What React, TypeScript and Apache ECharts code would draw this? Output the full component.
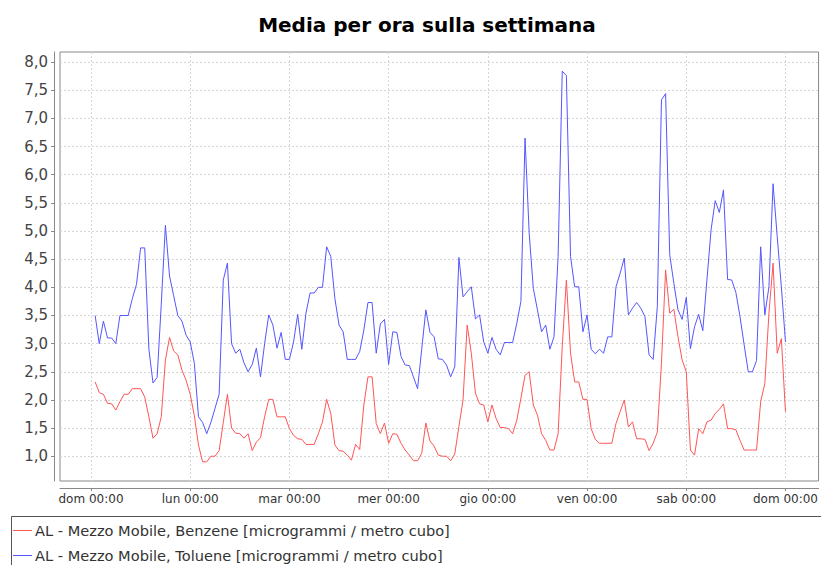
import React, { useEffect, useRef } from 'react';
import * as echarts from 'echarts';

const chartTitle = 'Media per ora sulla settimana';
const dayLabels = ['dom 00:00', 'lun 00:00', 'mar 00:00', 'mer 00:00', 'gio 00:00', 'ven 00:00', 'sab 00:00', 'dom 00:00'];
const dayTickHours = [0, 24, 48, 72, 96, 120, 144, 168];
const yTicks = [1.0, 1.5, 2.0, 2.5, 3.0, 3.5, 4.0, 4.5, 5.0, 5.5, 6.0, 6.5, 7.0, 7.5, 8.0];
const seriesNames = [
  'AL - Mezzo Mobile, Benzene [microgrammi / metro cubo]',
  'AL - Mezzo Mobile, Toluene [microgrammi / metro cubo]',
];

// hourly means, hour 1 .. 168 of the week
const benzene = [
  2.32, 2.13, 2.1, 1.94, 1.93, 1.82, 1.97, 2.1, 2.1, 2.2, 2.2, 2.2,
  2.05, 1.7, 1.32, 1.4, 1.7, 2.71, 3.11, 2.87, 2.8, 2.53, 2.35, 2.1,
  1.72, 1.2, 0.9, 0.9, 1.0, 1.0, 1.1, 1.6, 2.1, 1.5, 1.41, 1.4,
  1.32, 1.4, 1.1, 1.25, 1.33, 1.7, 2.01, 2.01, 1.7, 1.7, 1.7, 1.49,
  1.37, 1.31, 1.3, 1.21, 1.21, 1.21, 1.4, 1.61, 2.01, 1.76, 1.2, 1.1,
  1.09, 1.02, 0.93, 1.21, 1.12, 1.91, 2.41, 2.41, 1.58, 1.4, 1.59, 1.23,
  1.4, 1.39, 1.23, 1.11, 1.02, 0.92, 0.92, 1.05, 1.59, 1.27, 1.18, 1.02,
  1.0, 1.0, 0.92, 1.04, 1.53, 2.0, 3.33, 2.83, 2.12, 1.93, 1.91, 1.61,
  1.91, 1.67, 1.51, 1.51, 1.49, 1.4, 1.64, 2.03, 2.44, 2.5, 1.91, 1.73,
  1.4, 1.28, 1.11, 1.11, 1.4, 2.95, 4.13, 2.83, 2.32, 2.32, 2.01, 2.01,
  1.49, 1.3, 1.23, 1.23, 1.23, 1.23, 1.58, 1.79, 2.0, 1.52, 1.61, 1.31,
  1.31, 1.3, 1.1, 1.23, 1.43, 2.65, 4.31, 3.54, 3.61, 3.12, 2.71, 2.5,
  1.11, 1.02, 1.49, 1.4, 1.61, 1.64, 1.76, 1.83, 1.93, 1.49, 1.49, 1.47,
  1.28, 1.11, 1.11, 1.11, 1.11, 1.97, 2.29, 3.54, 4.43, 2.83, 3.09, 1.79,
];

const toluene = [
  3.5, 3.0, 3.4, 3.1, 3.1, 3.0, 3.5, 3.5, 3.5, 3.8, 4.05, 4.7,
  4.7, 2.9, 2.3, 2.4, 3.7, 5.1, 4.2, 3.85, 3.5, 3.4, 3.15, 3.03,
  2.65, 1.7, 1.6, 1.4, 1.6, 1.85, 2.1, 4.13, 4.43, 3.0, 2.83, 2.9,
  2.66, 2.5, 2.63, 2.92, 2.41, 3.0, 3.51, 3.33, 2.92, 3.2, 2.72, 2.72,
  3.03, 3.52, 2.9, 3.54, 3.9, 3.9, 4.0, 4.0, 4.72, 4.55, 3.8, 3.33,
  3.21, 2.72, 2.72, 2.72, 2.86, 3.24, 3.73, 3.73, 2.83, 3.35, 3.43, 2.63,
  3.21, 3.2, 2.77, 2.62, 2.61, 2.41, 2.2, 2.9, 3.6, 3.2, 3.12, 2.73,
  2.72, 2.62, 2.41, 2.59, 4.53, 3.83, 3.92, 4.01, 3.44, 3.51, 3.03, 2.83,
  3.11, 2.9, 2.8, 3.02, 3.02, 3.02, 3.36, 3.75, 6.65, 4.96, 3.98, 3.6,
  3.21, 3.33, 2.9, 3.12, 4.55, 7.84, 7.76, 4.55, 4.01, 4.01, 3.21, 3.51,
  2.9, 2.82, 2.9, 2.83, 3.12, 3.12, 4.01, 4.25, 4.52, 3.51, 3.63, 3.73,
  3.63, 3.48, 2.8, 2.72, 3.66, 7.33, 7.44, 4.58, 4.07, 3.6, 3.43, 3.82,
  2.91, 3.3, 3.52, 3.23, 4.13, 5.02, 5.54, 5.33, 5.73, 4.14, 4.13, 3.91,
  3.48, 2.98, 2.5, 2.5, 2.7, 4.72, 3.51, 4.01, 5.84, 4.9, 4.01, 3.03,
];

const FONT = 'DejaVu Sans';

export default function App() {
  const ref = useRef<HTMLDivElement>(null);
  useEffect(() => {
    if (!ref.current) return;
    const chart = echarts.init(ref.current, null, { renderer: 'svg' });
    const gridLine = { show: true, lineStyle: { color: '#d6d6d6', width: 1, type: [2, 2] as any } };
    chart.setOption({
      animation: false,
      backgroundColor: '#ffffff',
      title: {
        text: chartTitle,
        left: 422,
        textAlign: 'center',
        top: 10,
        textStyle: { fontFamily: FONT, fontWeight: 'bold', fontSize: 20, color: '#000' },
      },
      grid: {
        left: 60, right: 2, top: 52, bottom: 84,
        show: true, borderColor: '#888888', borderWidth: 1, backgroundColor: '#ffffff',
      },
      xAxis: {
        type: 'value',
        min: -7.5,
        max: 176,
        offset: 7,
        axisLine: { show: true, onZero: false, lineStyle: { color: '#888888' } },
        axisTick: { show: true, customValues: dayTickHours, length: 3, lineStyle: { color: '#888888' } },
        axisLabel: {
          customValues: dayTickHours,
          formatter: (v: number) => dayLabels[dayTickHours.indexOf(Math.round(v))] ?? '',
          fontFamily: FONT, fontSize: 12, color: '#333', margin: 5,
        },
        splitLine: gridLine,
      },
      yAxis: {
        type: 'value',
        min: 0.56,
        max: 8.18,
        offset: 6,
        axisLine: { show: true, onZero: false, lineStyle: { color: '#888888' } },
        axisTick: { show: true, customValues: yTicks, length: 3, lineStyle: { color: '#888888' } },
        axisLabel: {
          customValues: yTicks,
          formatter: (v: number) => v.toFixed(1).replace('.', ','),
          fontFamily: FONT, fontSize: 15, color: '#444', margin: 6,
        },
        splitLine: gridLine,
      },
      legend: {
        orient: 'vertical',
        left: 13,
        top: 523,
        itemGap: 10,
        itemWidth: 19,
        itemHeight: 1,
        icon: 'rect',
        padding: 0,
        textStyle: { fontFamily: FONT, fontSize: 14.6, color: '#333', padding: [0, 0, 0, -2] },
        data: seriesNames,
      },
      graphic: [
        {
          type: 'rect',
          left: 9, top: 514,
          shape: { width: 830, height: 70 },
          style: { fill: 'none', stroke: '#555555', lineWidth: 1 },
          silent: true,
        },
      ],
      series: [
        {
          name: seriesNames[0],
          type: 'line',
          data: benzene.map((v, i) => [i + 1, v]),
          showSymbol: false,
          symbol: 'none',
          lineStyle: { color: '#ff5555', width: 1 },
          itemStyle: { color: '#ff5555' },
        },
        {
          name: seriesNames[1],
          type: 'line',
          data: toluene.map((v, i) => [i + 1, v]),
          showSymbol: false,
          symbol: 'none',
          lineStyle: { color: '#5555ff', width: 1 },
          itemStyle: { color: '#5555ff' },
        },
      ],
    });
    return () => chart.dispose();
  }, []);
  return (
    <div
      ref={ref}
      style={{ position: 'fixed', left: 0, top: 0, width: 821, height: 565, background: '#fff' }}
    />
  );
}
